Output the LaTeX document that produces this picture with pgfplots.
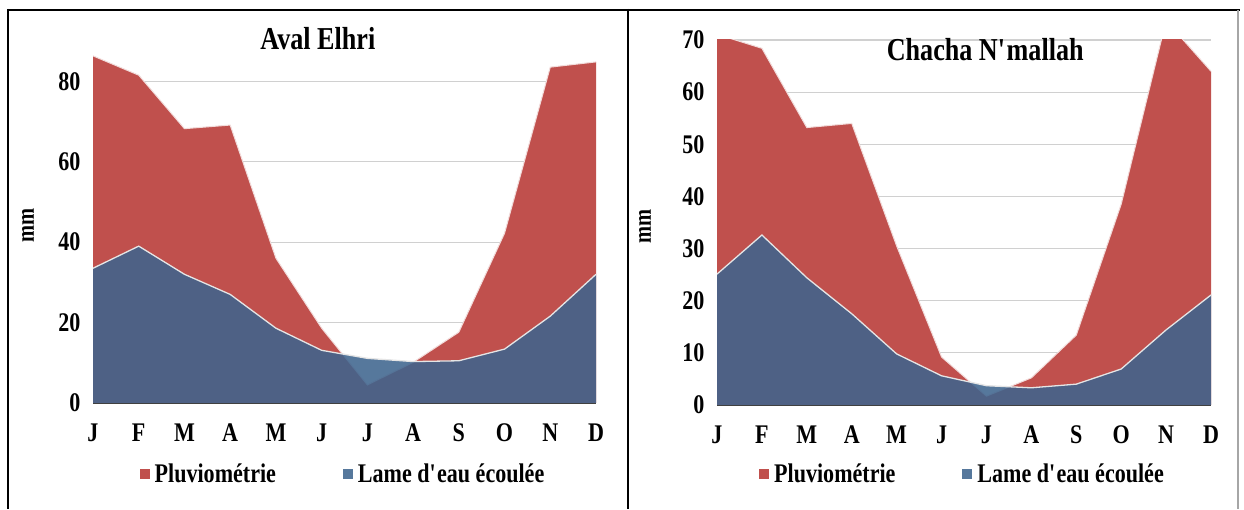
\documentclass[border=0pt]{standalone}
\usepackage{pgfplots}
\pgfplotsset{compat=1.18}
\usepackage{pgfplotstable}
\usepackage{fontspec}
\setmainfont{Liberation Serif}[FakeStretch=0.82]
\definecolor{pluv}{HTML}{C0504D}
\definecolor{lame}{RGB}{62,100,142}
\definecolor{axgray}{HTML}{404040}
\definecolor{gridc}{HTML}{D0D0D0}

% m = month index, p = Pluviometrie, l = Lame d'eau ecoulee
\pgfplotstableread{
m p l
0 86.3 33.5
1 81.5 39.0
2 68.2 32.0
3 69.1 27.0
4 36.0 18.6
5 18.6 13.1
6 4.5 11.1
7 10.1 10.3
8 17.6 10.5
9 42.2 13.4
10 83.5 21.6
11 84.8 32.0
}\avaldata

\pgfplotstableread{
m p l
0 71.1 25.1
1 68.4 32.6
2 53.2 24.4
3 54.0 17.5
4 30.5 9.8
5 9.2 5.6
6 1.7 3.7
7 5.2 3.3
8 13.4 4.0
9 38.5 6.9
10 73.7 14.4
11 64.0 21.1
}\chachadata

\pgfplotsset{
 layers/mylayers/.define layer set={axis background,axis grid,axis ticks,main,axis lines,axis tick labels,axis descriptions,axis foreground}{},
 panel/.style={
  set layers=mylayers,
  scale only axis,
  xmin=0, xmax=11, ymin=0,
  xtick={0,...,11},
  xticklabels={J,F,M,A,M,J,J,A,S,O,N,D},
  axis x line*=bottom,
  axis y line*=left,
  x axis line style={-, line width=3bp, color=axgray},
  y axis line style={draw=none},
  major tick length=0pt,
  ymajorgrids,
  grid style={gridc, line width=1.2bp},
  /pgf/number format/assume math mode=true,
  yticklabel style={font=\fontsize{27}{27}\selectfont\bfseries, xshift=-9bp},
  xticklabel style={font=\fontsize{27}{27}\selectfont\bfseries, yshift=-17bp},
  ylabel={mm},
  ylabel style={font=\fontsize{25}{25}\selectfont\bfseries, anchor=center, rotate=0},
  title style={font=\fontsize{32}{32}\selectfont\bfseries, anchor=center},
  legend columns=2,
  legend style={draw=none, fill=none, anchor=center,
    font=\fontsize{27}{27}\selectfont\bfseries,
    nodes={inner xsep=5bp},
    /tikz/every even column/.append style={column sep=62bp}},
  legend image code/.code={\fill[##1] (0bp,-5bp) rectangle (10bp,5bp);},
 },
}

\begin{document}
\begin{tikzpicture}
\fill[white] (0,0) rectangle (1244bp,509bp);

% left panel
\begin{axis}[panel,
  at={(93bp,106bp)}, anchor=south west,
  width=503bp, height=362bp,
  ymax=90, ytick={0,20,...,80},
  ylabel style={at={(axis description cs:-0.129,0.49)}},
  legend style={at={(axis description cs:0.5,-0.196)}},
  title={Aval Elhri},
  title style={at={(axis description cs:0.447,0.99)}},
]
\addplot[fill=pluv, draw=none] table[x=m,y=p] {\avaldata} \closedcycle;
\addplot[draw=white!80!pluv, line width=1bp, forget plot] table[x=m,y=p] {\avaldata};
\addplot[fill=lame, fill opacity=0.87, draw=none] table[x=m,y=l] {\avaldata} \closedcycle;
\addplot[draw=white!80!gray, line width=1.3bp, forget plot] table[x=m,y=l] {\avaldata};
\legend{Pluviométrie, Lame d\textquotesingle eau écoulée}
\end{axis}

% right panel
\begin{axis}[panel,
  at={(717bp,104bp)}, anchor=south west,
  width=494bp, height=365bp,
  ymax=70, ytick={0,10,...,70},
  ylabel style={at={(axis description cs:-0.146,0.49)}},
  legend style={at={(axis description cs:0.5,-0.189)}},
  title={Chacha N\textquotesingle mallah},
  title style={at={(axis description cs:0.543,0.956)}},
]
\addplot[fill=pluv, draw=none] table[x=m,y=p] {\chachadata} \closedcycle;
\addplot[draw=white!80!pluv, line width=1bp, forget plot] table[x=m,y=p] {\chachadata};
\addplot[fill=lame, fill opacity=0.87, draw=none] table[x=m,y=l] {\chachadata} \closedcycle;
\addplot[draw=white!80!gray, line width=1.3bp, forget plot] table[x=m,y=l] {\chachadata};
\legend{Pluviométrie, Lame d\textquotesingle eau écoulée}
\end{axis}

% panel frames
\draw[line width=2.5bp, black] (8bp,499bp) -- (1240bp,499bp);
\draw[line width=2bp, black] (8bp,500bp) -- (8bp,0bp);
\draw[line width=2bp, black] (628bp,500bp) -- (628bp,0bp);
\draw[line width=1.5bp, gray!70] (1238bp,499bp) -- (1238bp,0bp);
\end{tikzpicture}
\end{document}
